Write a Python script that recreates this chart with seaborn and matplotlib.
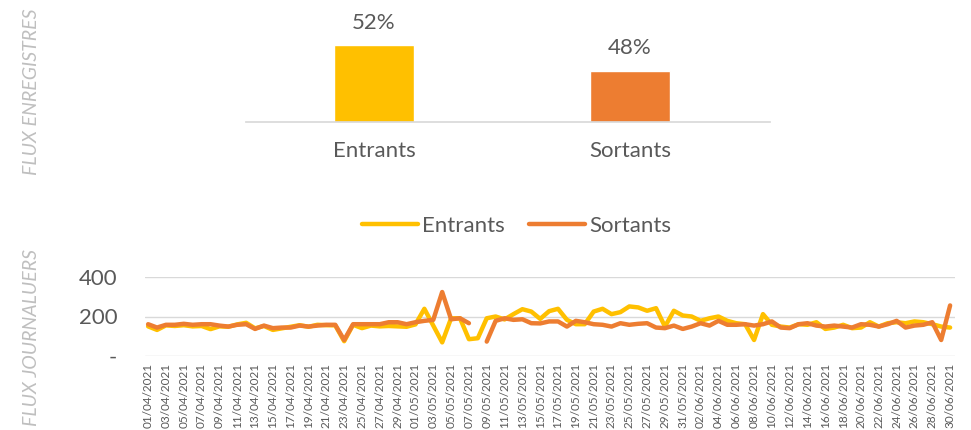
import numpy as np
import pandas as pd
import matplotlib
matplotlib.use("Agg")
import matplotlib.pyplot as plt
import seaborn as sns

# top panel: share of flows
categories = ["Entrants", "Sortants"]
shares = [0.52, 0.48]

# bottom panel: daily flows, 01/04/2021 -> 30/06/2021
dates = pd.date_range("2021-04-01", "2021-06-30", freq="D").strftime("%d/%m/%Y").tolist()
entrants = [150, 132, 155, 152, 156, 150, 152, 136, 150, 148, 160, 168, 140, 152, 132,
            140, 148, 156, 148, 158, 156, 155, 75, 158, 141, 154, 150, 152, 150, 148,
            160, 239, 154, 69, 191, 191, 85, 90, 191, 200, 185, 212, 237, 225, 188,
            227, 239, 183, 161, 161, 225, 239, 212, 222, 251, 246, 229, 242, 149, 229,
            205, 200, 178, 191, 200, 178, 166, 161, 81, 212, 158, 149, 144, 161, 158,
            171, 137, 144, 158, 141, 144, 171, 149, 166, 171, 166, 175, 171, 161, 149,
            144]
sortants = [161, 144, 158, 158, 163, 158, 161, 161, 154, 149, 158, 161, 137, 154, 141,
            144, 144, 154, 149, 154, 158, 158, 81, 161, 161, 161, 161, 171, 171, 161,
            171, 178, 183, 324, 186, 191, 166, np.nan, 73, 178, 191, 183, 186, 166, 165,
            175, 175, 149, 178, 171, 161, 158, 149, 166, 158, 163, 166, 144, 141, 154,
            137, 149, 166, 154, 178, 158, 158, 161, 154, 161, 175, 144, 141, 161, 166,
            154, 149, 154, 149, 144, 161, 158, 149, 161, 178, 144, 154, 158, 171, 81,
            256]

colors = {"Entrants": "#FFC000", "Sortants": "#ED7D31"}
grey_txt = "#595959"
grid_col = "#D9D9D9"

sns.set_theme(style="white")
plt.rcParams["font.family"] = ["Lato", "DejaVu Sans"]

fig = plt.figure(figsize=(9.71, 4.30), dpi=100)

# ---- bar chart ----
ax1 = fig.add_axes([246 / 971, 1 - 122 / 430, 524 / 971, 112 / 430])
bars = pd.DataFrame({"cat": categories, "share": shares})
sns.barplot(data=bars, x="cat", y="share", hue="cat", palette=colors,
            width=0.3125, legend=False, ax=ax1, saturation=1)
ax1.set_ylim(0.40, 0.575)
ax1.set_xlim(-0.5, 1.547)
for c in ax1.containers:
    ax1.bar_label(c, labels=[f"{v:.0%}" for v in c.datavalues], padding=9,
                  fontsize=16, color=grey_txt)
for s in ["top", "left", "right"]:
    ax1.spines[s].set_visible(False)
ax1.spines["bottom"].set_color(grid_col)
ax1.set_yticks([])
ax1.tick_params(axis="x", length=0, pad=14, labelsize=16, labelcolor=grey_txt)
ax1.set_xlabel("")
ax1.set_ylabel("")

# ---- daily lines ----
idx = np.arange(len(dates))
seg = np.where(idx < 37, 0, 1)
df = pd.concat([
    pd.DataFrame({"idx": idx, "val": entrants, "serie": "Entrants", "seg": 0}),
    pd.DataFrame({"idx": idx, "val": sortants, "serie": "Sortants", "seg": seg}),
]).dropna()

ax2 = fig.add_axes([145 / 971, 1 - 356 / 430, 810 / 971, 79 / 430])
sns.lineplot(data=df, x="idx", y="val", hue="serie", units="seg", estimator=None,
             palette=colors, hue_order=categories, linewidth=3.2, sort=False, ax=ax2,
             solid_capstyle="round", solid_joinstyle="round")
ax2.set_ylim(0, 400)
ax2.set_xlim(-0.35, len(dates) - 0.45)
ax2.set_yticks([0, 200, 400])
ax2.set_yticklabels(["-", "200", "400"])
ax2.yaxis.grid(True, color=grid_col, linewidth=1)
ax2.set_axisbelow(True)
for s in ax2.spines.values():
    s.set_visible(False)
ax2.set_xticks(idx[::2])
ax2.set_xticklabels(dates[::2], rotation=90, fontsize=8.5, color=grey_txt)
ax2.tick_params(axis="x", length=0, pad=5)
ax2.tick_params(axis="y", length=0, pad=20, labelsize=16, labelcolor=grey_txt)
ax2.set_xlabel("")
ax2.set_ylabel("")

handles, labels = ax2.get_legend_handles_labels()
ax2.get_legend().remove()
for h in handles:
    h.set_solid_capstyle("round")
fig.legend(handles, labels, loc="center", bbox_to_anchor=(0.532, 1 - 226 / 430), ncol=2,
           frameon=False, fontsize=16, handlelength=2.5, columnspacing=1.1,
           handletextpad=0.2, labelcolor=grey_txt)

# side titles
fig.text(0.032, 1 - 92 / 430, "FLUX ENREGISTRES", rotation=90, style="italic",
         color="#BFBFBF", fontsize=14, ha="center", va="center")
fig.text(0.032, 1 - 337 / 430, "FLUX JOURNALUERS", rotation=90, style="italic",
         color="#BFBFBF", fontsize=14, ha="center", va="center")

fig.savefig("out.png", dpi=100)
